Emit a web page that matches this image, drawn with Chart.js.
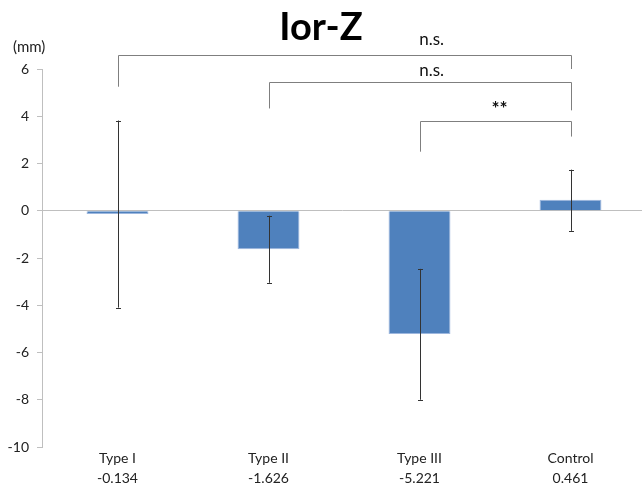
<!DOCTYPE html>
<html>
<head>
<meta charset="utf-8">
<script src="https://cdn.jsdelivr.net/npm/chart.js@4.4.1/dist/chart.umd.min.js"></script>
<style>
  html, body { margin: 0; padding: 0; background: #fff; }
  #wrap { width: 642px; height: 488px; }
</style>
</head>
<body>
<div id="wrap"><canvas id="myChart" width="642" height="488"></canvas></div>
<script>
// values
const groups = ['Type I', 'Type II', 'Type III', 'Control'];
const means = [-0.134, -1.626, -5.221, 0.461];
const errLow = [-4.10, -3.05, -8.00, -0.85];
const errHigh = [3.82, -0.21, -2.46, 1.74];
const yTicks = [-10, -8, -6, -4, -2, 0, 2, 4, 6];

// significance comparisons: [from, to, label]
const comparisons = [
  [0, 3, 'n.s.'],
  [1, 3, 'n.s.'],
  [2, 3, '**']
];
// bracket geometry (value units): [barY, leftLegY, rightLegY, labelIndex, labelY]
const bracketLevels = [
  [6.6, 5.25, 6.0, 2.08, 7.25],
  [5.45, 4.33, 4.25, 2.08, 5.95],
  [3.78, 2.5, 3.14, 2.53, 4.3]
];

const font = "Lato, 'Open Sans', sans-serif";

const extras = {
  id: 'extras',
  afterLayout(chart) {
    // category axis runs a little past the right edge of the canvas
    const x = chart.scales.x;
    x.right = 646;
    x.width = x.right - x.left;
    x.configure();
  },
  afterDatasetsDraw(chart) {
    const ctx = chart.ctx;
    const x = chart.scales.x, y = chart.scales.y;
    ctx.save();
    // error bars
    ctx.strokeStyle = '#333';
    ctx.lineWidth = 1;
    errLow.forEach((lo, i) => {
      const px = Math.round(x.getPixelForValue(i)) + 0.5;
      const top = y.getPixelForValue(errHigh[i]);
      const bot = y.getPixelForValue(lo);
      ctx.beginPath();
      ctx.moveTo(px, top); ctx.lineTo(px, bot);
      ctx.moveTo(px - 2.5, Math.round(top) + 0.5); ctx.lineTo(px + 2.5, Math.round(top) + 0.5);
      ctx.moveTo(px - 2.5, Math.round(bot) + 0.5); ctx.lineTo(px + 2.5, Math.round(bot) + 0.5);
      ctx.stroke();
    });
    // brackets
    ctx.strokeStyle = '#7f7f7f';
    ctx.fillStyle = '#111';
    ctx.textAlign = 'center';
    ctx.textBaseline = 'middle';
    comparisons.forEach((c, k) => {
      const lv = bracketLevels[k];
      const x1 = Math.round(x.getPixelForValue(c[0])) + 0.5;
      const x2 = Math.round(x.getPixelForValue(c[1])) + 0.5;
      const yb = Math.round(y.getPixelForValue(lv[0])) + 0.5;
      ctx.beginPath();
      ctx.moveTo(x1, y.getPixelForValue(lv[1]));
      ctx.lineTo(x1, yb);
      ctx.lineTo(x2, yb);
      ctx.lineTo(x2, y.getPixelForValue(lv[2]));
      ctx.stroke();
      ctx.font = (c[2] === '**' ? 'bold 19px ' : '17px ') + font;
      ctx.fillText(c[2], x.getPixelForValue(lv[3]), y.getPixelForValue(lv[4]));
    });
    // title and unit
    ctx.font = 'bold 38px ' + font;
    ctx.fillStyle = '#000';
    ctx.fillText('Ior-Z', 321, 28);
    ctx.font = '15px ' + font;
    ctx.textAlign = 'left';
    ctx.fillStyle = '#222';
    ctx.fillText('(mm)', 13, 47);
    ctx.restore();
  }
};

new Chart(document.getElementById('myChart'), {
  type: 'bar',
  data: {
    labels: groups.map((g, i) => [g, means[i].toFixed(3)]),
    datasets: [{
      data: means,
      backgroundColor: '#4f81bd',
      borderColor: '#9db7de',
      borderWidth: 1,
      barPercentage: 0.82,
      categoryPercentage: 0.5
    }]
  },
  options: {
    responsive: false,
    animation: false,
    layout: { padding: { top: 69, right: 0, left: 0, bottom: 0 } },
    plugins: { legend: { display: false }, tooltip: { enabled: false } },
    scales: {
      x: {
        grid: { display: false },
        border: { display: false },
        afterFit: s => { s.height = 41; },
        ticks: { color: '#222', padding: -6, font: { family: font, size: 14, lineHeight: 1.4 } }
      },
      y: {
        min: -10,
        max: 6,
        afterBuildTicks: s => { s.ticks = yTicks.map(v => ({ value: v })); },
        afterFit: s => { s.width = 42; },
        border: { color: '#bfbfbf' },
        grid: {
          color: c => (c.tick && c.tick.value === 0 ? '#bfbfbf' : 'rgba(0,0,0,0)'),
          tickColor: '#bfbfbf',
          tickLength: 5
        },
        ticks: { color: '#222', padding: 8, font: { family: font, size: 14 } }
      }
    }
  },
  plugins: [extras]
});
</script>
</body>
</html>
